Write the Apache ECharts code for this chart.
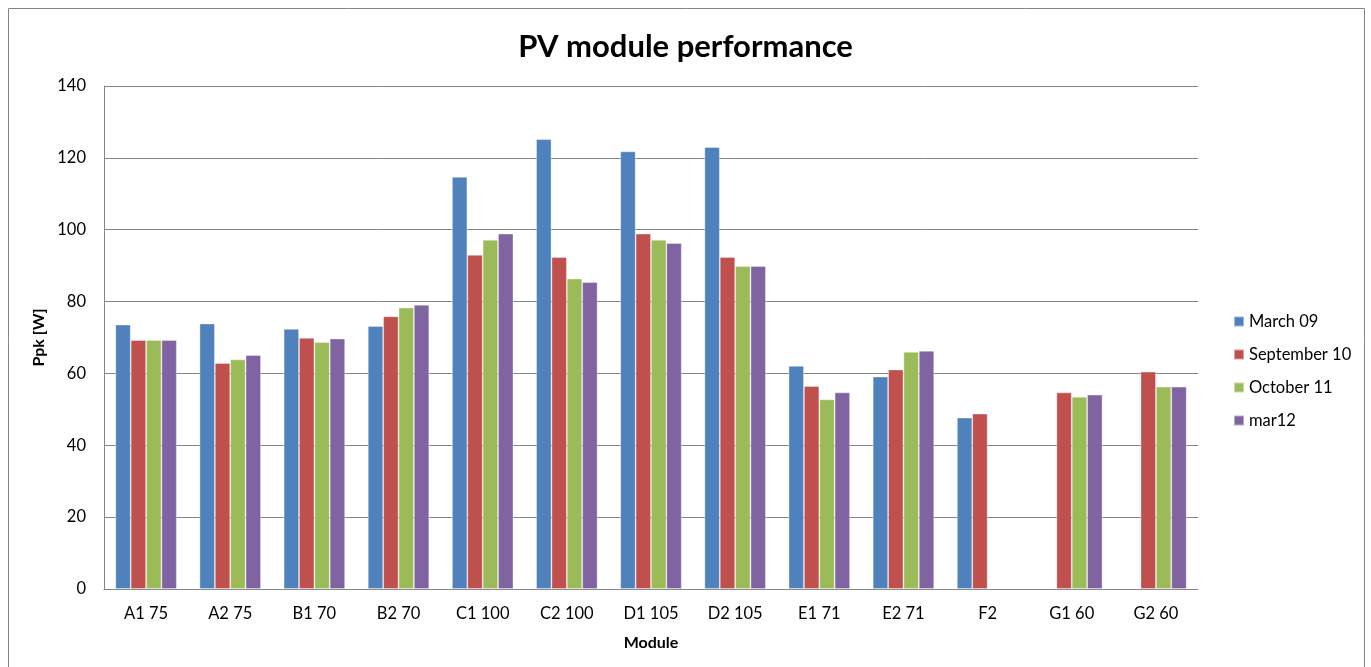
<!DOCTYPE html>
<html>
<head>
<meta charset="utf-8">
<script src="https://cdn.jsdelivr.net/npm/echarts@6/dist/echarts.min.js"></script>
<style>
  html, body { margin: 0; padding: 0; background: #fff; }
  #container { width: 1371px; height: 667px; }
</style>
</head>
<body>
<div id="container"></div>
<script>
// modules on the x axis
var modules = ['A1 75', 'A2 75', 'B1 70', 'B2 70', 'C1 100', 'C2 100', 'D1 105',
               'D2 105', 'E1 71', 'E2 71', 'F2', 'G1 60', 'G2 60'];
// measurement campaigns
var march09 = [73.6, 73.9, 72.4, 73.2, 114.7, 125.2, 121.8, 123.0, 62.1, 59.1, 47.7, null, null];
var september10 = [69.3, 62.9, 69.9, 75.9, 93.0, 92.4, 98.9, 92.4, 56.5, 61.1, 48.8, 54.7, 60.5];
var october11 = [69.3, 63.9, 68.7, 78.3, 97.2, 86.4, 97.2, 89.9, 52.8, 66.0, null, 53.5, 56.3];
var mar12 = [69.3, 65.1, 69.7, 79.1, 98.9, 85.4, 96.3, 89.9, 54.7, 66.3, null, 54.1, 56.3];
var yTicks = [0, 20, 40, 60, 80, 100, 120, 140];

var font = 'Lato, "Open Sans", sans-serif';

function bar(name, data, color) {
    return {
        name: name,
        type: 'bar',
        data: data,
        barGap: '0%',
        barCategoryGap: '27%',
        itemStyle: { color: color, borderColor: 'rgba(255,255,255,0.45)', borderWidth: 0.8 }
    };
}

var option = {
    animation: false,
    textStyle: { fontFamily: font },
    title: {
        text: 'PV module performance',
        left: 'center',
        top: 26,
        textStyle: { fontFamily: font, fontSize: 31, fontWeight: 'bold', color: '#000' }
    },
    legend: {
        orient: 'vertical',
        left: 1228,
        top: 308,
        itemGap: 16,
        itemWidth: 10,
        itemHeight: 10,
        icon: 'rect',
        textStyle: { fontFamily: font, fontSize: 16.5, color: '#000' },
        data: ['March 09', 'September 10', 'October 11', 'mar12']
    },
    grid: { left: 104, right: 173, top: 86, bottom: 78 },
    xAxis: {
        type: 'category',
        data: modules,
        name: 'Module',
        nameLocation: 'middle',
        nameGap: 46,
        nameTextStyle: { fontFamily: font, fontSize: 16, fontWeight: 'bold', color: '#000' },
        axisLine: { lineStyle: { color: '#868686', width: 1 } },
        axisTick: { show: false },
        axisLabel: { fontFamily: font, fontSize: 16.5, color: '#000', margin: 16, interval: 0 }
    },
    yAxis: {
        type: 'value',
        min: yTicks[0],
        max: yTicks[yTicks.length - 1],
        interval: 20,
        name: 'Ppk [W]',
        nameLocation: 'middle',
        nameGap: 54,
        nameRotate: 90,
        nameTextStyle: { fontFamily: font, fontSize: 16, fontWeight: 'bold', color: '#000' },
        axisLine: { show: true, lineStyle: { color: '#868686', width: 1 } },
        axisTick: { show: false },
        axisLabel: { fontFamily: font, fontSize: 16.5, color: '#000', margin: 18 },
        splitLine: { lineStyle: { color: '#868686', width: 1 } }
    },
    graphic: [{
        type: 'rect',
        shape: { x: 8.5, y: 8.5, width: 1356, height: 670 },
        style: { fill: 'none', stroke: '#868686', lineWidth: 1 },
        silent: true
    }],
    series: [
        bar('March 09', march09, '#4F81BD'),
        bar('September 10', september10, '#C0504D'),
        bar('October 11', october11, '#9BBB59'),
        bar('mar12', mar12, '#8064A2')
    ]
};

echarts.init(document.getElementById('container')).setOption(option);
</script>
</body>
</html>
